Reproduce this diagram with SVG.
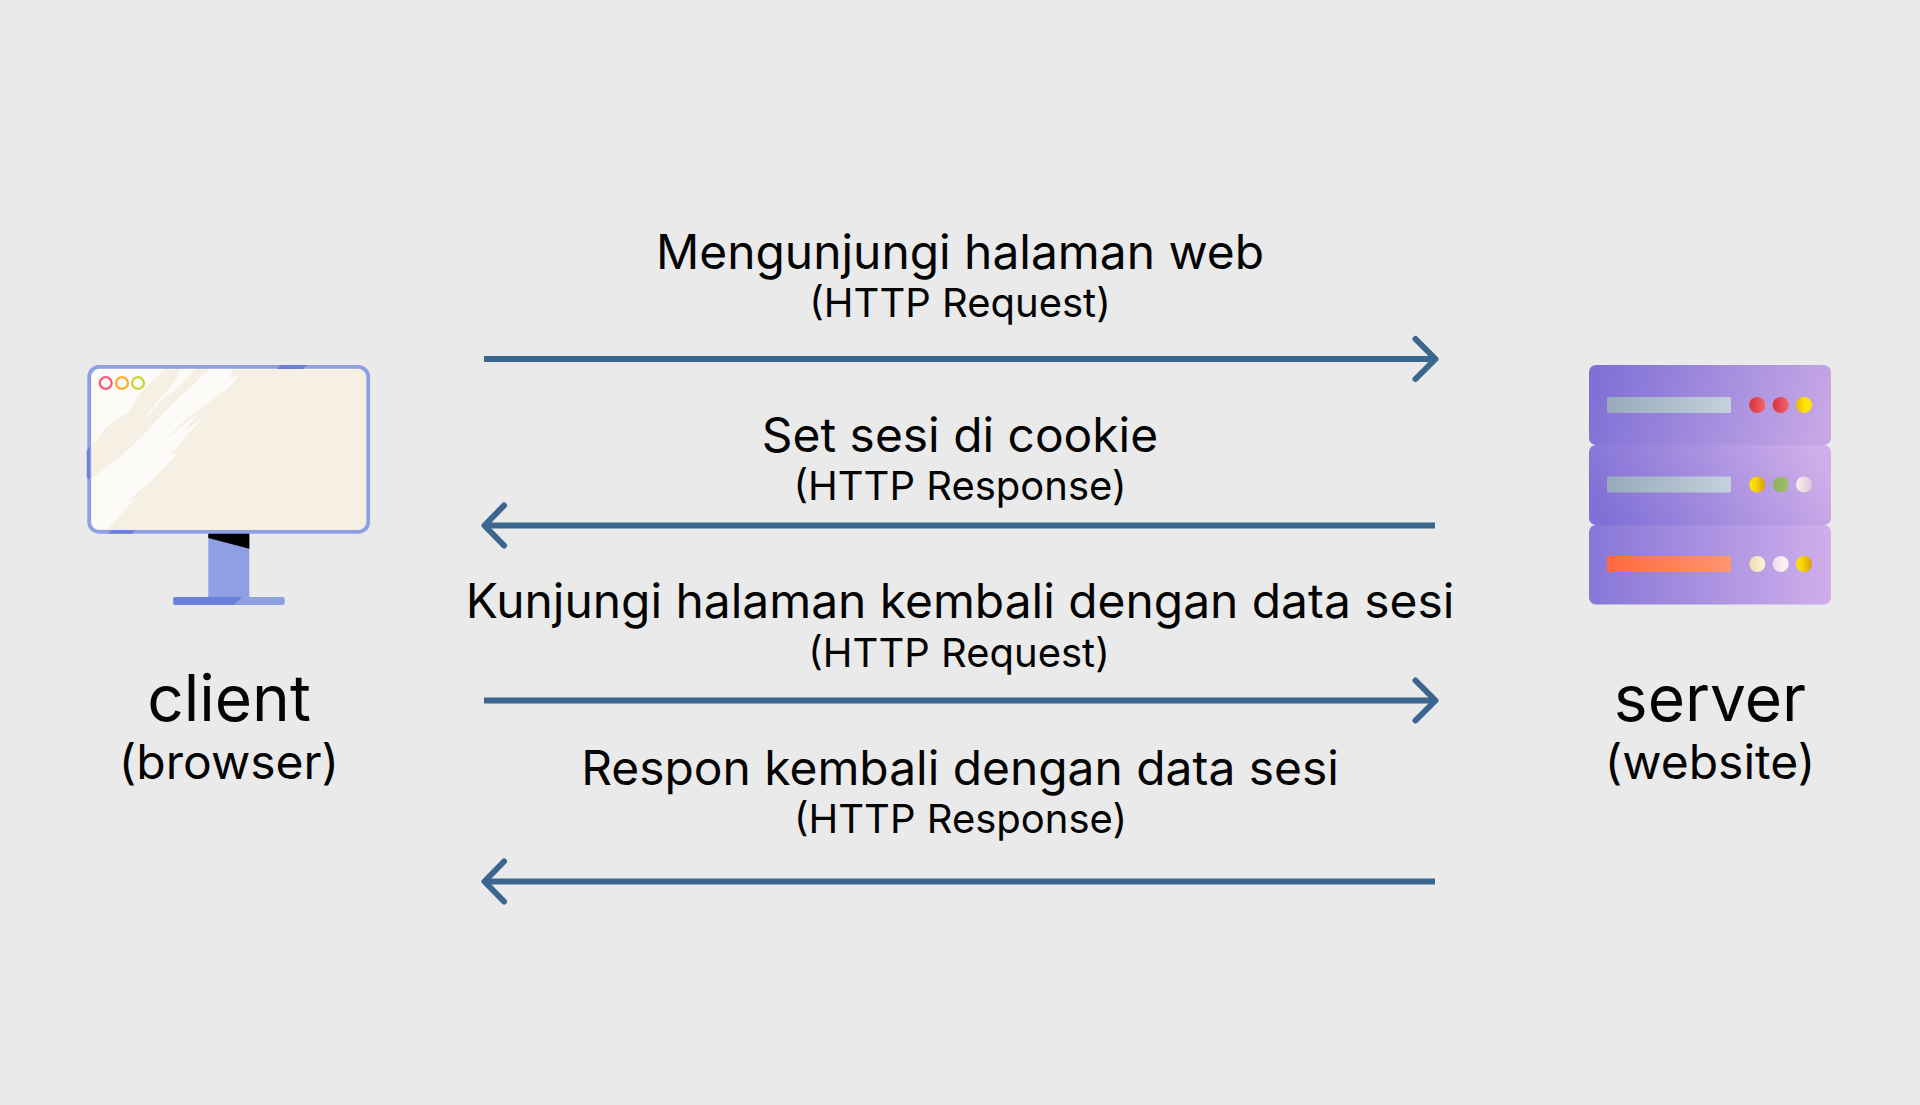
<svg xmlns="http://www.w3.org/2000/svg" width="1920" height="1105" viewBox="0 0 1920 1105">
<style>
text{font-family:Inter,"Noto Sans",sans-serif;fill:#050505;text-anchor:middle}
.a{font-size:47.9px}.b{font-size:40px}.c{font-size:64px}.d{font-size:48px}
.ln{fill:none;stroke:#3b6690;stroke-width:6}
.hd{fill:none;stroke:#3b6690;stroke-width:6;stroke-linecap:round;stroke-linejoin:round}
</style>
<defs>
<linearGradient id="s1" x1="0" y1="0.45" x2="1" y2="0.55"><stop offset="0" stop-color="#7f70d6"/><stop offset="1" stop-color="#c7a8e6"/></linearGradient>
<linearGradient id="s2" x1="0" y1="0.6" x2="1" y2="0.4"><stop offset="0" stop-color="#7f70d6"/><stop offset="1" stop-color="#cfaee9"/></linearGradient>
<linearGradient id="s3" x1="0" y1="0.5" x2="1" y2="0.5"><stop offset="0" stop-color="#8776d8"/><stop offset="1" stop-color="#cfaeea"/></linearGradient>
<linearGradient id="bar"><stop offset="0" stop-color="#98a9ba"/><stop offset="1" stop-color="#c3d2dc"/></linearGradient>
<linearGradient id="org"><stop offset="0" stop-color="#ff693f"/><stop offset="1" stop-color="#ff9670"/></linearGradient>
<linearGradient id="red"><stop offset="0" stop-color="#d7303c"/><stop offset="1" stop-color="#f2666c"/></linearGradient>
<linearGradient id="ylw"><stop offset="0" stop-color="#e8b800"/><stop offset="0.5" stop-color="#ffe100"/><stop offset="1" stop-color="#ffe600"/></linearGradient>
<linearGradient id="ylw2"><stop offset="0" stop-color="#ffe600"/><stop offset="0.4" stop-color="#f8d400"/><stop offset="1" stop-color="#d89c10"/></linearGradient>
<linearGradient id="grn"><stop offset="0" stop-color="#8eb25a"/><stop offset="1" stop-color="#9cc070"/></linearGradient>
<linearGradient id="pnk"><stop offset="0" stop-color="#faeef2"/><stop offset="1" stop-color="#dcc8d2"/></linearGradient>
<linearGradient id="crm"><stop offset="0" stop-color="#efdcb0"/><stop offset="1" stop-color="#fdf4dc"/></linearGradient>
<linearGradient id="wht"><stop offset="0" stop-color="#f0dcea"/><stop offset="1" stop-color="#fff6fa"/></linearGradient>
<clipPath id="scr"><rect x="89.2" y="367" width="279" height="165" rx="9"/></clipPath>
</defs>
<rect width="1920" height="1105" fill="#eaeaea"/>
<g id="client">
<rect x="208.3" y="533" width="41" height="65" fill="#8ea0e3"/>
<path d="M208.3 533H249.3V548.7L208.3 538Z" fill="#000"/>
<rect x="173.3" y="597" width="111.4" height="8" rx="2" fill="#8ea0e3"/>
<path d="M175.3 597H242L234 605H175.3Q173.3 605 173.3 603V599Q173.3 597 175.3 597Z" fill="#6a7fdb"/>
<rect x="89.2" y="366.9" width="279" height="165" rx="10" fill="#f6efe4"/>
<g clip-path="url(#scr)" fill="#fcfbf7">
<g transform="translate(87 365) scale(.3333)">
<path d="M0 0H245L205 42L222 20L165 80L150 100L125 140L60 185L20 228L48 205L10 245H0Z"/>
<path d="M282 8H330L262 78L240 90L155 180L205 118L230 90L262 50Z"/>
<path d="M372 8H442L426 38L456 32L420 75L405 82L385 98L300 160L222 238L300 172L330 150L290 200L340 165L250 270L275 262L195 345L120 410L150 395L62 492H0V350L20 335L105 270L165 215L210 165L285 90Z"/>
<path d="M385 178L420 138L395 165Z"/>
<path d="M340 178L385 125L350 168Z"/>
</g>
</g>
<rect x="89.2" y="366.9" width="279" height="165" rx="10" fill="none" stroke="#8ea0e3" stroke-width="3.8"/>
<path d="M281 365H307L303 369H277Z" fill="#6a7fdb"/>
<path d="M89 449V478L87.5 477V451Z" fill="#6a7fdb" stroke="#6a7fdb" stroke-width="1.5"/>
<path d="M108 533.7H132L135 530H112Z" fill="#6a7fdb"/>
<g fill="none" stroke-width="2.3">
<circle cx="105.7" cy="383" r="5.9" stroke="#f85a7a"/>
<circle cx="122" cy="383" r="5.9" stroke="#ffb030"/>
<circle cx="138" cy="383" r="5.9" stroke="#c3d93a"/>
</g>
</g>
<g id="server">
<rect x="1589" y="365" width="242" height="80" rx="7" fill="url(#s1)"/>
<rect x="1589" y="445" width="242" height="80" rx="7" fill="url(#s2)"/>
<rect x="1589" y="525" width="242" height="79.5" rx="7" fill="url(#s3)"/>
<rect x="1607" y="397" width="124" height="16" rx="1.5" fill="url(#bar)"/>
<rect x="1607" y="476.5" width="124" height="16" rx="1.5" fill="url(#bar)"/>
<rect x="1607" y="556" width="124" height="16" rx="1.5" fill="url(#org)"/>
<circle cx="1757.3" cy="405" r="8" fill="url(#red)"/>
<circle cx="1780.7" cy="405" r="8" fill="url(#red)"/>
<circle cx="1804" cy="405" r="8" fill="url(#ylw)"/>
<circle cx="1757.3" cy="484.5" r="8" fill="url(#ylw2)"/>
<circle cx="1780.7" cy="484.5" r="8" fill="url(#grn)"/>
<circle cx="1804" cy="484.5" r="8" fill="url(#pnk)"/>
<circle cx="1757.3" cy="564" r="8" fill="url(#crm)"/>
<circle cx="1780.7" cy="564" r="8" fill="url(#wht)"/>
<circle cx="1804" cy="564" r="8" fill="url(#ylw2)"/>
</g>
<g id="connectors">
<path class="ln" d="M484 359H1434"/><path class="hd" d="M1415.5 339L1435.5 359L1415.5 379"/>
<path class="ln" d="M1435 525.5H487"/><path class="hd" d="M504 505.5L484.5 525.5L504 545.5"/>
<path class="ln" d="M484 700.5H1434"/><path class="hd" d="M1415.5 680.5L1435.5 700.5L1415.5 720.5"/>
<path class="ln" d="M1435 881.5H487"/><path class="hd" d="M504 861.5L484.5 881.5L504 901.5"/>
</g>
<g id="labels">
<text class="c" x="229" y="721">client</text>
<text class="d" x="229" y="779">(browser)</text>
<text class="c" x="1710" y="721">server</text>
<text class="d" x="1710" y="779">(website)</text>
<text class="a" x="960" y="269">Mengunjungi halaman web</text>
<text class="b" x="960" y="316.5">(HTTP Request)</text>
<text class="a" x="960" y="451.5">Set sesi di cookie</text>
<text class="b" x="960" y="499.5">(HTTP Response)</text>
<text class="a" x="960" y="618">Kunjungi halaman kembali dengan data sesi</text>
<text class="b" x="959" y="666.5">(HTTP Request)</text>
<text class="a" x="960" y="785">Respon kembali dengan data sesi</text>
<text class="b" x="960.5" y="833">(HTTP Response)</text>
</g>
</svg>
